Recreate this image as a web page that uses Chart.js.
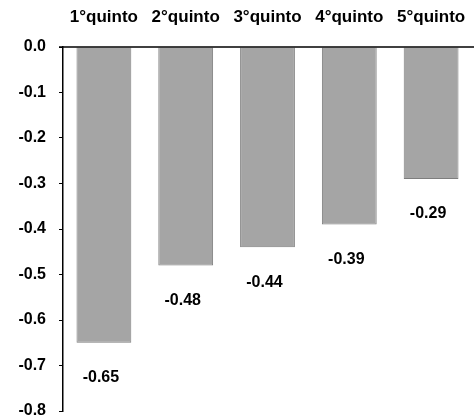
<!DOCTYPE html>
<html>
<head>
<meta charset="utf-8">
<script src="https://cdn.jsdelivr.net/npm/chart.js@4"></script>
<style>
  body { margin: 0; background: #fff; }
  #wrap { width: 476px; height: 419px; }
</style>
</head>
<body>
<div id="wrap"><canvas id="quintiChart" width="476" height="419"></canvas></div>
<script>
const quintiLabels = ['1°quinto', '2°quinto', '3°quinto', '4°quinto', '5°quinto'];
const quintiValues = [-0.65, -0.48, -0.44, -0.39, -0.29];
const yTicks = [0.0, -0.1, -0.2, -0.3, -0.4, -0.5, -0.6, -0.7, -0.8];

const fontFamily = "'Liberation Sans', Arial, sans-serif";

// value labels under each bar + zero line running to the right edge
const barValueLabels = {
  id: 'barValueLabels',
  afterDatasetsDraw(chart) {
    const ctx = chart.ctx;
    const meta = chart.getDatasetMeta(0);
    ctx.save();
    ctx.font = 'bold 16px ' + fontFamily;
    ctx.fillStyle = '#000';
    ctx.textAlign = 'center';
    ctx.textBaseline = 'middle';
    meta.data.forEach((bar, i) => {
      ctx.fillText(quintiValues[i].toFixed(2), bar.x - 3, bar.y + 35);
    });
    const y0 = chart.scales.y.getPixelForValue(0);
    ctx.strokeStyle = '#000';
    ctx.lineWidth = 1.5;
    ctx.beginPath();
    ctx.moveTo(chart.chartArea.left - 4, y0);
    ctx.lineTo(chart.width - 2, y0);
    ctx.stroke();
    ctx.restore();
  }
};

const ctx = document.querySelector('#quintiChart').getContext('2d');
const chart = new Chart(ctx, {
  type: 'bar',
  data: {
    labels: quintiLabels,
    datasets: [
      {
        data: quintiValues,
        backgroundColor: '#a5a5a5',
        borderColor: '#7e7e7e',
        borderWidth: 1,
        categoryPercentage: 1,
        barPercentage: 0.67
      }
    ]
  },
  options: {
    responsive: false,
    animation: false,
    layout: { padding: { top: 0, right: 4, bottom: 8, left: 0 } },
    plugins: {
      legend: { display: false },
      tooltip: { enabled: false }
    },
    scales: {
      x: {
        position: 'top',
        grid: { display: false, drawTicks: false },
        border: { display: false },
        ticks: {
          color: '#000',
          padding: 19,
          maxRotation: 0,
          autoSkip: false,
          font: { family: fontFamily, size: 17, weight: 'bold' }
        },
        afterFit(scale) {
          scale.height = 47;
          scale.paddingLeft = 0;
          scale.paddingRight = 0;
        }
      },
      y: {
        min: -0.8,
        max: 0,
        afterBuildTicks(scale) {
          scale.ticks = yTicks.map(v => ({ value: v }));
        },
        grid: {
          drawOnChartArea: false,
          drawTicks: true,
          tickLength: 4,
          color: '#000'
        },
        border: { display: true, color: '#000', width: 1.5 },
        ticks: {
          color: '#000',
          padding: 13,
          font: { family: fontFamily, size: 16, weight: 'bold' },
          callback: v => v.toFixed(1)
        },
        afterFit(scale) {
          scale.width = 63;
          scale.paddingTop = 0;
          scale.paddingBottom = 0;
        }
      }
    }
  },
  plugins: [barValueLabels]
});
</script>
</body>
</html>
